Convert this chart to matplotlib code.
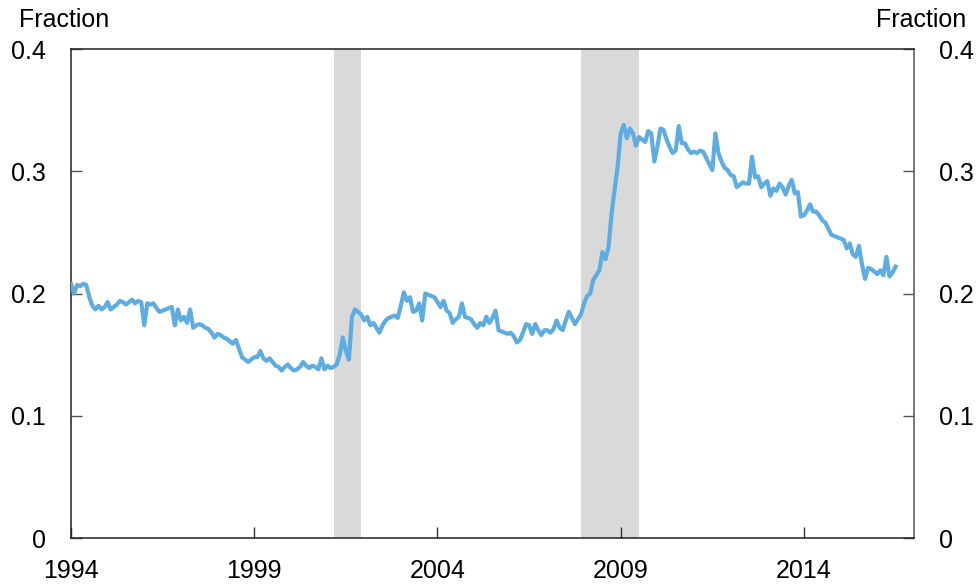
import numpy as np
import matplotlib.pyplot as plt

plt.rcParams['font.family'] = ['Liberation Sans', 'DejaVu Sans']

# monthly values, Jan 1994 .. Jul 2016
vals_by_year = {
    1994: [0.208, 0.200, 0.207, 0.206, 0.208, 0.207, 0.197, 0.190, 0.187, 0.190, 0.187, 0.189],
    1995: [0.193, 0.187, 0.189, 0.191, 0.194, 0.193, 0.191, 0.193, 0.195, 0.192, 0.194, 0.193],
    1996: [0.174, 0.192, 0.191, 0.192, 0.188, 0.185, 0.186, 0.187, 0.188, 0.189, 0.174, 0.187],
    1997: [0.178, 0.181, 0.176, 0.187, 0.172, 0.174, 0.175, 0.174, 0.172, 0.171, 0.168, 0.164],
    1998: [0.167, 0.166, 0.164, 0.163, 0.161, 0.159, 0.162, 0.155, 0.148, 0.146, 0.144, 0.146],
    1999: [0.148, 0.148, 0.153, 0.147, 0.145, 0.147, 0.144, 0.141, 0.140, 0.137, 0.140, 0.142],
    2000: [0.139, 0.137, 0.138, 0.140, 0.144, 0.141, 0.139, 0.141, 0.140, 0.138, 0.147, 0.138],
    2001: [0.141, 0.139, 0.140, 0.142, 0.150, 0.164, 0.153, 0.146, 0.181, 0.187, 0.185, 0.183],
    2002: [0.178, 0.181, 0.174, 0.176, 0.172, 0.168, 0.174, 0.178, 0.180, 0.181, 0.182, 0.180],
    2003: [0.190, 0.201, 0.194, 0.197, 0.185, 0.186, 0.192, 0.178, 0.200, 0.199, 0.198, 0.197],
    2004: [0.193, 0.189, 0.194, 0.186, 0.184, 0.176, 0.179, 0.181, 0.192, 0.181, 0.180, 0.179],
    2005: [0.175, 0.172, 0.176, 0.174, 0.181, 0.176, 0.180, 0.186, 0.170, 0.169, 0.168, 0.167],
    2006: [0.168, 0.165, 0.160, 0.162, 0.168, 0.175, 0.174, 0.167, 0.175, 0.170, 0.166, 0.170],
    2007: [0.170, 0.168, 0.171, 0.178, 0.172, 0.170, 0.178, 0.185, 0.180, 0.175, 0.179, 0.183],
    2008: [0.192, 0.198, 0.200, 0.211, 0.215, 0.219, 0.234, 0.228, 0.238, 0.265, 0.285, 0.304],
    2009: [0.331, 0.338, 0.327, 0.335, 0.331, 0.321, 0.328, 0.326, 0.324, 0.333, 0.331, 0.308],
    2010: [0.320, 0.335, 0.334, 0.326, 0.320, 0.315, 0.317, 0.337, 0.323, 0.323, 0.318, 0.315],
    2011: [0.316, 0.315, 0.317, 0.316, 0.311, 0.306, 0.301, 0.331, 0.315, 0.308, 0.303, 0.301],
    2012: [0.297, 0.296, 0.287, 0.289, 0.291, 0.290, 0.290, 0.312, 0.295, 0.296, 0.287, 0.290],
    2013: [0.292, 0.280, 0.286, 0.284, 0.290, 0.287, 0.281, 0.288, 0.293, 0.282, 0.283, 0.263],
    2014: [0.264, 0.268, 0.273, 0.267, 0.267, 0.264, 0.260, 0.258, 0.253, 0.248, 0.247, 0.246],
    2015: [0.245, 0.244, 0.237, 0.241, 0.232, 0.230, 0.239, 0.224, 0.212, 0.221, 0.220, 0.218],
    2016: [0.216, 0.219, 0.215, 0.230, 0.214, 0.217, 0.222],
}

recessions = [(2001 + 2/12, 2001 + 11/12), (2007 + 11/12, 2009 + 6/12)]
xticks = [1994, 1999, 2004, 2009, 2014]
yticks = [0, 0.1, 0.2, 0.3, 0.4]
ytick_labels = ['0', '0.1', '0.2', '0.3', '0.4']

values = np.concatenate([vals_by_year[y] for y in sorted(vals_by_year)])
dates = 1994 + np.arange(len(values)) / 12

fig = plt.figure(figsize=(9.79, 5.88), dpi=100)
ax = fig.add_axes([0.0725, 0.085, 0.861, 0.8315])

for start, end in recessions:
    ax.axvspan(start, end, color='#d9d9d9', lw=0, zorder=0)

ax.plot(dates, values, color='#5dade2', lw=3.0, zorder=3, solid_joinstyle='round')

ax.set_xlim(1994, 2017)
ax.set_ylim(0, 0.4)
ax.set_xticks(xticks)
ax.set_xticklabels([str(x) for x in xticks])
ax.set_yticks(yticks)
ax.set_yticklabels(ytick_labels)

ax.tick_params(axis='x', direction='in', length=8, width=1, color='#333333',
               labelsize=18, pad=15)
ax.tick_params(axis='y', direction='in', length=8, width=1, color='#555555',
               labelsize=18, pad=18, left=True, right=True,
               labelleft=True, labelright=True)

for side in ['left', 'top', 'bottom']:
    ax.spines[side].set_color('#222222')
ax.spines['right'].set_color('#555555')
for sp in ax.spines.values():
    sp.set_linewidth(1.1)

fig.text(19 / 979, 1 - 27 / 588, 'Fraction', fontsize=18, ha='left', va='baseline')
fig.text(966 / 979, 1 - 27 / 588, 'Fraction', fontsize=18, ha='right', va='baseline')

fig.savefig('out.png', dpi=100)
